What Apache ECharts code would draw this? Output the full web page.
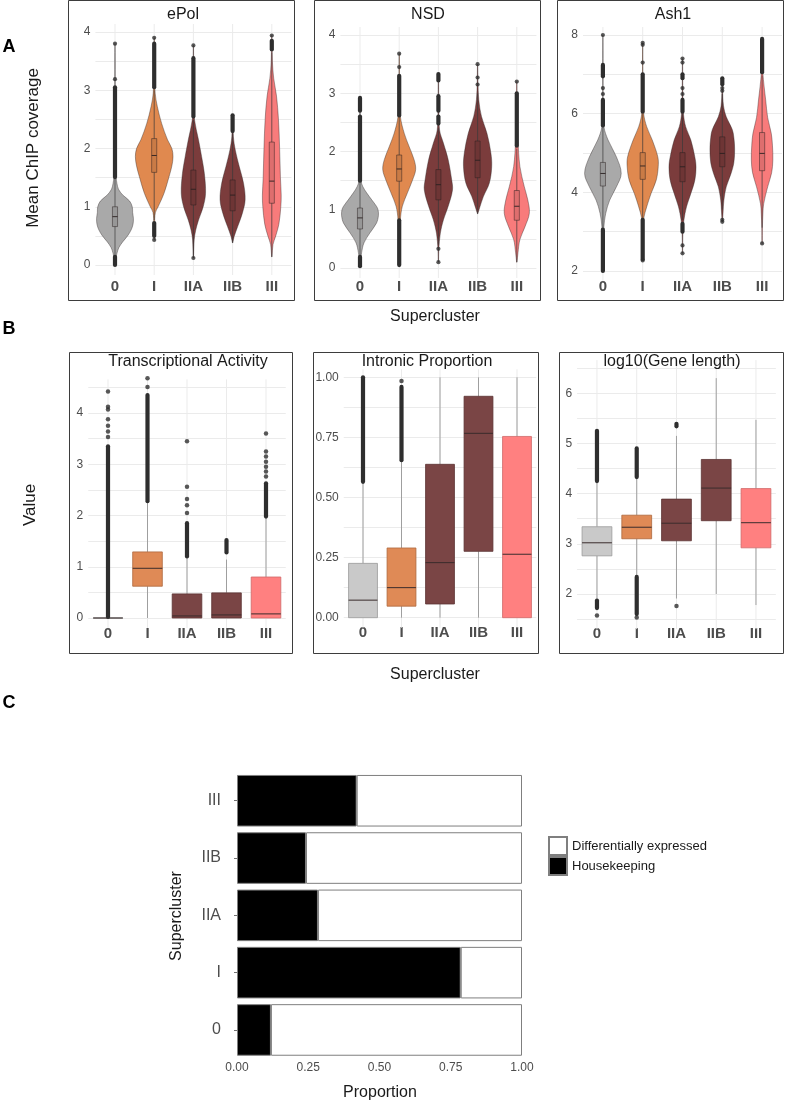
<!DOCTYPE html>
<html><head><meta charset="utf-8">
<script src="https://cdn.jsdelivr.net/npm/echarts@6/dist/echarts.min.js"></script>
<style>html,body{margin:0;padding:0;background:#fff}#c{width:786px;height:1102px}</style>
</head><body><div id="c"></div>
<script>
// ---------------- DATA ----------------
const categories = ['0','I','IIA','IIB','III'];

// Panel A : ePol  (violin profiles: [value, half-width in category units])
const ePolTicks = [0,1,2,3,4];
const ePolViolin = [
  [[0.02,0.005],[0.1,0.02],[0.2,0.05],[0.3,0.1],[0.4,0.2],[0.5,0.32],[0.6,0.41],[0.7,0.46],[0.8,0.47],[0.9,0.45],[1.0,0.44],[1.1,0.37],[1.2,0.2],[1.3,0.09],[1.4,0.05],[1.5,0.03],[1.8,0.015],[2.5,0.01],[3.2,0.007],[3.8,0.004]],
  [[0.43,0.004],[0.7,0.01],[0.9,0.03],[1.0,0.1],[1.23,0.25],[1.52,0.38],[1.7,0.45],[1.86,0.48],[2.0,0.45],[2.15,0.34],[2.43,0.19],[2.72,0.08],[2.95,0.025],[3.3,0.008],[3.9,0.004]],
  [[0.12,0.004],[0.43,0.02],[0.6,0.06],[0.77,0.13],[1.0,0.25],[1.23,0.31],[1.57,0.28],[1.86,0.21],[2.15,0.13],[2.49,0.03],[2.8,0.01],[3.77,0.004]],
  [[0.38,0.004],[0.49,0.04],[0.66,0.13],[0.89,0.25],[1.12,0.32],[1.4,0.28],[1.69,0.17],[1.97,0.07],[2.2,0.02],[2.57,0.004]],
  [[0.14,0.004],[0.35,0.03],[0.5,0.1],[0.7,0.18],[1.0,0.23],[1.2,0.24],[1.5,0.22],[2.0,0.2],[2.5,0.17],[2.9,0.12],[3.2,0.05],[3.5,0.015],[3.94,0.004]]
];
const ePolBox = [[0.17,0.66,0.83,1.00,1.49],[0.77,1.59,1.88,2.17,3.0],[0.15,1.03,1.30,1.63,2.49],[0.38,0.93,1.20,1.46,2.26],[0.14,1.06,1.44,2.11,3.65]];
const ePolRuns = [[0,1.51,3.05],[0,0.0,0.14],[1,3.05,3.8],[1,0.5,0.72],[2,2.55,3.55],[3,2.3,2.57],[4,3.7,3.85]];
const ePolPoints = [[0,3.19],[0,3.8],[1,3.9],[1,0.43],[2,3.77],[2,0.12],[4,3.94]];

// Panel A : NSD
const nsdTicks = [0,1,2,3,4];
const nsdViolin = [
  [[0.03,0.005],[0.15,0.02],[0.26,0.04],[0.43,0.1],[0.6,0.25],[0.77,0.42],[0.9,0.47],[1.0,0.46],[1.06,0.42],[1.17,0.3],[1.29,0.17],[1.4,0.07],[1.49,0.03],[1.8,0.012],[2.4,0.008],[2.92,0.004]],
  [[0.05,0.004],[0.5,0.01],[0.83,0.03],[1.06,0.08],[1.29,0.21],[1.51,0.34],[1.69,0.42],[1.86,0.38],[2.09,0.25],[2.31,0.13],[2.6,0.03],[3.0,0.01],[3.68,0.004]],
  [[0.1,0.004],[0.31,0.01],[0.6,0.05],[0.83,0.13],[1.06,0.25],[1.34,0.36],[1.51,0.34],[1.86,0.25],[2.14,0.13],[2.37,0.03],[2.8,0.01],[3.33,0.004]],
  [[0.93,0.004],[1.03,0.05],[1.23,0.15],[1.46,0.3],[1.74,0.36],[1.97,0.34],[2.31,0.24],[2.6,0.1],[2.89,0.03],[3.2,0.01],[3.5,0.004]],
  [[0.1,0.004],[0.26,0.03],[0.49,0.08],[0.71,0.21],[0.94,0.32],[1.17,0.28],[1.4,0.19],[1.74,0.08],[2.2,0.03],[2.7,0.01],[3.2,0.004]]
];
const nsdBox = [[0.2,0.67,0.86,1.03,1.49],[0.83,1.49,1.70,1.94,2.6],[0.4,1.17,1.43,1.69,2.4],[0.93,1.55,1.85,2.18,3.0],[0.1,0.82,1.06,1.33,2.05]];
const nsdRuns = [[0,1.5,2.6],[0,2.7,2.92],[0,0.03,0.19],[1,2.62,3.3],[1,0.05,0.82],[2,2.48,2.6],[2,2.7,2.95],[2,3.22,3.33],[4,2.1,3.0]];
const nsdPoints = [[1,3.45],[1,3.68],[2,0.33],[2,0.1],[3,3.15],[3,3.27],[3,3.5],[4,3.2]];

// Panel A : Ash1
const ash1Ticks = [2,4,6,8];
const ash1Violin = [
  [[2.0,0.004],[2.6,0.006],[3.12,0.025],[3.46,0.07],[3.8,0.17],[4.14,0.34],[4.48,0.46],[4.9,0.34],[5.33,0.13],[5.67,0.025],[6.2,0.008],[7.2,0.005],[8.0,0.003]],
  [[2.27,0.004],[3.0,0.01],[3.33,0.025],[3.63,0.1],[3.97,0.21],[4.31,0.34],[4.65,0.39],[4.9,0.38],[5.33,0.24],[5.67,0.1],[6.0,0.025],[6.6,0.008],[7.8,0.003]],
  [[2.45,0.004],[3.0,0.01],[3.29,0.035],[3.63,0.1],[3.97,0.21],[4.31,0.31],[4.65,0.34],[4.9,0.31],[5.33,0.21],[5.67,0.08],[6.0,0.025],[6.6,0.008],[7.4,0.003]],
  [[3.25,0.004],[3.5,0.02],[3.8,0.04],[4.14,0.1],[4.48,0.22],[4.75,0.29],[5.1,0.31],[5.4,0.29],[5.6,0.25],[5.92,0.1],[6.2,0.03],[6.6,0.008],[6.9,0.003]],
  [[2.7,0.004],[3.1,0.008],[3.45,0.02],[3.71,0.04],[4.14,0.14],[4.5,0.24],[4.82,0.27],[5.2,0.26],[5.5,0.23],[5.9,0.14],[6.35,0.09],[6.7,0.05],[7.03,0.02],[7.5,0.008],[7.9,0.003]]
];
const ash1Box = [[3.1,4.16,4.48,4.76,5.66],[3.33,4.33,4.67,5.01,6.0],[3.3,4.27,4.65,5.01,6.0],[3.56,4.65,4.99,5.41,6.5],[3.1,4.55,4.99,5.52,6.97]];
const ash1Runs = [[0,5.7,6.35],[0,6.95,7.24],[0,2.0,3.05],[1,6.05,7.0],[1,2.3,3.3],[2,6.05,6.35],[2,6.9,7.0],[2,3.0,3.2],[3,6.75,6.9],[4,7.05,7.9]];
const ash1Points = [[0,6.5],[0,6.65],[0,8.0],[1,7.3],[1,7.75],[1,7.8],[1,2.27],[2,6.5],[2,6.65],[2,7.3],[2,7.4],[2,2.65],[2,2.45],[3,6.65],[3,6.58],[3,3.3],[3,3.25],[4,2.7]];

// Panel B : boxes [lower whisker, Q1, median, Q3, upper whisker]
const transTicks = [0,1,2,3,4];
const transBox = [[0,0,0,0,0],[0,0.62,0.97,1.29,2.27],[0,0,0.04,0.47,1.18],[0,0,0.06,0.49,1.14],[0,0,0.08,0.80,1.95]];
const transRuns = [[0,0.02,3.35],[1,2.28,4.35],[2,1.2,1.85],[3,1.28,1.52],[4,1.98,2.63]];
const transPoints = [[0,3.53],[0,3.64],[0,3.75],[0,3.88],[0,4.07],[0,4.12],[0,4.42],[1,4.51],[1,4.68],[2,2.05],[2,2.2],[2,2.32],[2,2.56],[2,3.45],[4,2.76],[4,2.86],[4,2.95],[4,3.05],[4,3.15],[4,3.25],[4,3.6]];

const intronicTicks = [0,0.25,0.5,0.75,1];
const intronicBox = [[0,0,0.073,0.226,0.562],[0,0.048,0.125,0.29,0.65],[0,0.057,0.229,0.638,1.0],[0,0.276,0.767,0.921,1.0],[0,0,0.264,0.754,1.0]];
const intronicRuns = [[0,0.565,1.0],[1,0.655,0.96]];
const intronicPoints = [[1,0.985]];

const geneTicks = [2,3,4,5,6];
const geneBox = [[1.89,2.76,3.02,3.34,4.22],[2.36,3.10,3.33,3.57,4.31],[1.91,3.06,3.41,3.89,5.15],[2.0,3.46,4.11,4.68,6.3],[1.78,2.92,3.42,4.10,5.47]];
const geneRuns = [[0,4.25,5.25],[0,1.72,1.87],[1,4.33,4.9],[1,1.6,2.34],[2,5.34,5.39]];
const genePoints = [[0,1.57],[1,1.53],[2,1.76]];

// Panel C
const propTicks = [0,0.25,0.5,0.75,1];
const housekeeping = [0.119,0.785,0.284,0.242,0.42];
const diffExpressed = [0.881,0.215,0.716,0.758,0.58];
const legendNames = ['Differentially expressed','Housekeeping'];

// ---------------- STYLE ----------------
const FONT = 'Liberation Sans, Arial, Helvetica, sans-serif';
const violinFill = ['#a9a9a9','#e0894f','#7b3c3c','#7b3c3c','#f87b7b'];
const boxFill = ['#c9c9c9','#df8a56','#7a4545','#7a4545','#ff8080'];
const boxStroke = ['#9a9a9a','#ad683d','#5c3333','#5c3333','#cf6868'];

const grids = [
  {left:95.4, top:32, width:196, height:233},
  {left:340.4, top:35, width:196, height:233},
  {left:583, top:35, width:199, height:236},
  {left:88.25, top:387.4, width:197.5, height:230.6},
  {left:343.75, top:377.3, width:192.5, height:240.4},
  {left:577.1, top:368.1, width:198.75, height:251},
  {left:237, top:772.1, width:285, height:286.5}
].map(g => Object.assign({outerBoundsMode:'none', containLabel:false}, g));

function tickFmt(ticks, dec){
  return v => ticks.some(t => Math.abs(t - v) < 1e-9) ? (dec ? v.toFixed(dec) : String(v)) : '';
}
const yDefs = [
  {min:0, max:4, interval:0.5, ticks:ePolTicks},
  {min:0, max:4, interval:0.5, ticks:nsdTicks},
  {min:2, max:8, interval:1, ticks:ash1Ticks},
  {min:0, max:4.5, interval:0.5, ticks:transTicks},
  {min:0, max:1, interval:0.125, ticks:intronicTicks, dec:2},
  {min:1.5, max:6.5, interval:0.5, ticks:geneTicks}
];
const xMargins = [14.5, 11.5, 8.5, 8, 8, 7];

const xAxis = [], yAxis = [];
for (let i = 0; i < 6; i++) {
  xAxis.push({gridIndex:i, type:'category', data:categories, boundaryGap:true,
    axisLine:{show:false}, axisTick:{show:false}, splitLine:{show:false},
    axisLabel:{fontFamily:FONT, fontWeight:'bold', fontSize:15, color:'#4d4d4d', margin:xMargins[i], interval:0}});
  const d = yDefs[i];
  yAxis.push({gridIndex:i, type:'value', min:d.min, max:d.max, interval:d.interval,
    axisLine:{show:false}, axisTick:{show:false},
    splitLine:{show:true, lineStyle:{color:'#ebebeb', width:1}},
    axisLabel:{fontFamily:FONT, fontSize:12, color:'#4d4d4d', margin:5, formatter:tickFmt(d.ticks, d.dec), showMinLabel:true, showMaxLabel:true}});
}
// Panel C axes
xAxis.push({gridIndex:6, type:'value', min:0, max:1, interval:0.25,
  axisLine:{show:false}, axisTick:{show:false}, splitLine:{show:false},
  axisLabel:{fontFamily:FONT, fontSize:12, color:'#4d4d4d', margin:3, formatter:tickFmt(propTicks, 2), showMinLabel:true, showMaxLabel:true}});
yAxis.push({gridIndex:6, type:'category', data:categories, offset:14,
  axisLine:{show:false}, axisTick:{show:true, alignWithLabel:true, length:3, lineStyle:{color:'#4d4d4d', width:0.8}},
  splitLine:{show:false},
  axisLabel:{fontFamily:FONT, fontSize:16, color:'#4d4d4d', margin:2}});

// ---------------- RENDERERS ----------------
function gridLineRender(params, api){
  const cs = params.coordSys;
  const x = api.coord([api.value(0), yDefs[0].min])[0];
  return {type:'line', silent:true, shape:{x1:x, y1:cs.y - 8, x2:x, y2:cs.y + cs.height + 10},
    style:{stroke:'#ebebeb', lineWidth:1}};
}
function violinRender(profiles){
  return function(params, api){
    const i = params.dataIndex;
    const band = api.size([1, 0])[0];
    const right = [], left = [];
    profiles[i].forEach(p => {
      const c = api.coord([i, p[0]]);
      right.push([c[0] + p[1] * band, c[1]]);
      left.push([c[0] - p[1] * band, c[1]]);
    });
    const pts = right.concat(left.reverse());
    return {type:'polygon', shape:{points:pts, smooth:0.35},
      style:{fill:violinFill[i], stroke:'rgba(45,35,35,0.65)', lineWidth:0.6}};
  };
}
function boxRender(boxes, half, opts){
  return function(params, api){
    const i = params.dataIndex;
    const b = boxes[i];
    const band = api.size([1, 0])[0];
    const pLo = api.coord([i, b[0]]), pQ1 = api.coord([i, b[1]]), pMed = api.coord([i, b[2]]),
          pQ3 = api.coord([i, b[3]]), pHi = api.coord([i, b[4]]);
    const cx = pMed[0], w = half * band;
    return {type:'group', children:[
      {type:'line', shape:{x1:cx, y1:pQ3[1], x2:cx, y2:pHi[1]}, style:{stroke:opts.whisker, lineWidth:opts.whiskerWidth}},
      {type:'line', shape:{x1:cx, y1:pQ1[1], x2:cx, y2:pLo[1]}, style:{stroke:opts.whisker, lineWidth:opts.whiskerWidth}},
      {type:'rect', shape:{x:cx - w, y:pQ3[1], width:2 * w, height:pQ1[1] - pQ3[1]},
        style:{fill:opts.fill(i), stroke:opts.stroke(i), lineWidth:opts.strokeWidth}},
      {type:'line', shape:{x1:cx - w, y1:pMed[1], x2:cx + w, y2:pMed[1]}, style:{stroke:opts.median, lineWidth:opts.medianWidth}}
    ]};
  };
}
function runRender(params, api){
  const a = api.coord([api.value(0), api.value(1)]);
  const b = api.coord([api.value(0), api.value(2)]);
  return {type:'line', shape:{x1:a[0], y1:a[1], x2:b[0], y2:b[1]},
    style:{stroke:'#2e2e2e', lineWidth:4.2, lineCap:'round'}};
}

const series = [];
function addCommon(gi, runs, points, size){
  series.push({type:'custom', xAxisIndex:gi, yAxisIndex:gi, renderItem:runRender, data:runs,
    encode:{x:0, y:[1,2]}, z:5, clip:false, silent:true});
  series.push({type:'scatter', xAxisIndex:gi, yAxisIndex:gi, data:points, symbolSize:size,
    itemStyle:{color:'#2e2e2e'}, z:5, clip:false, silent:true});
}
function addGridLines(gi){
  series.push({type:'custom', xAxisIndex:gi, yAxisIndex:gi, renderItem:gridLineRender,
    data:categories.map((c, i) => [i]), encode:{x:0}, z:1, clip:false, silent:true});
}
function addViolinPanel(gi, violin, box, runs, points){
  addGridLines(gi);
  const dat = categories.map((c, i) => [i, box[i][2]]);
  series.push({type:'custom', xAxisIndex:gi, yAxisIndex:gi, renderItem:violinRender(violin), data:dat,
    encode:{x:0, y:1}, z:2, clip:false, silent:true});
  series.push({type:'custom', xAxisIndex:gi, yAxisIndex:gi,
    renderItem:boxRender(box, 0.065, {whisker:'#3a3a3a', whiskerWidth:0.7, fill:() => 'rgba(0,0,0,0.10)',
      stroke:() => 'rgba(40,30,30,0.8)', strokeWidth:0.6, median:'#2a2020', medianWidth:0.9}),
    data:dat, encode:{x:0, y:1}, z:3, clip:false, silent:true});
  addCommon(gi, runs, points, 4.2);
}
function addBoxPanel(gi, box, runs, points){
  addGridLines(gi);
  const dat = categories.map((c, i) => [i, box[i][2]]);
  series.push({type:'custom', xAxisIndex:gi, yAxisIndex:gi,
    renderItem:boxRender(box, 0.375, {whisker:'#8c8c8c', whiskerWidth:0.8, fill:i => boxFill[i],
      stroke:i => boxStroke[i], strokeWidth:0.8, median:'#3a2c2c', medianWidth:1}),
    data:dat, encode:{x:0, y:1}, z:3, clip:false, silent:true});
  addCommon(gi, runs, points, 4.5);
}
addViolinPanel(0, ePolViolin, ePolBox, ePolRuns, ePolPoints);
addViolinPanel(1, nsdViolin, nsdBox, nsdRuns, nsdPoints);
addViolinPanel(2, ash1Violin, ash1Box, ash1Runs, ash1Points);
addBoxPanel(3, transBox, transRuns, transPoints);
addBoxPanel(4, intronicBox, intronicRuns, intronicPoints);
addBoxPanel(5, geneBox, geneRuns, genePoints);

series.push({name:legendNames[1], type:'bar', xAxisIndex:6, yAxisIndex:6, stack:'p', data:housekeeping,
  barCategoryGap:'10%', itemStyle:{color:'#000000', borderColor:'#7f7f7f', borderWidth:1}, silent:true});
series.push({name:legendNames[0], type:'bar', xAxisIndex:6, yAxisIndex:6, stack:'p', data:diffExpressed,
  barCategoryGap:'10%', itemStyle:{color:'#ffffff', borderColor:'#7f7f7f', borderWidth:1}, silent:true});

// ---------------- TEXT / FRAMES ----------------
function txt(text, x, y, size, opts){
  opts = opts || {};
  return {type:'text', x:x, y:y, rotation:opts.rot || 0, silent:true, z:10,
    style:{text:text, font:(opts.bold ? 'bold ' : '') + size + 'px ' + FONT, fill:opts.color || '#1a1a1a',
      align:opts.align || 'center', verticalAlign:'middle', textAlign:opts.align || 'center', textVerticalAlign:'middle'}};
}
function frame(x, y, w, h){
  return {type:'rect', silent:true, z:10, shape:{x:x + 0.5, y:y + 0.5, width:w, height:h},
    style:{fill:'none', stroke:'#3d3d3d', lineWidth:1}};
}
const graphic = [
  frame(68, 0, 226, 300), frame(314, 0, 226, 300), frame(557, 0, 226, 300),
  frame(69, 352, 223, 301), frame(313, 352, 225, 301), frame(559, 352, 224, 301),
  txt('ePol', 183, 15, 16), txt('NSD', 428, 15, 16), txt('Ash1', 673, 15, 16),
  txt('Transcriptional Activity', 188, 362, 16), txt('Intronic Proportion', 427, 362, 16), txt('log10(Gene length)', 672, 362, 16),
  txt('A', 9, 47, 18, {bold:true, color:'#000'}), txt('B', 9, 329, 18, {bold:true, color:'#000'}), txt('C', 9, 703, 18, {bold:true, color:'#000'}),
  txt('Mean ChIP coverage', 33, 148, 17, {rot:Math.PI / 2}),
  txt('Value', 30, 505, 17, {rot:Math.PI / 2}),
  txt('Supercluster', 435, 317, 16), txt('Supercluster', 435, 675, 16),
  txt('Supercluster', 177, 916, 16, {rot:Math.PI / 2}),
  txt('Proportion', 380, 1093, 16)
];

const chart = echarts.init(document.getElementById('c'), null, {renderer:'canvas', width:786, height:1102});
chart.setOption({
  animation:false,
  backgroundColor:'#ffffff',
  grid:grids, xAxis:xAxis, yAxis:yAxis, series:series, graphic:graphic,
  legend:{data:legendNames, orient:'vertical', left:548, top:836, itemWidth:18, itemHeight:18, itemGap:0,
    icon:'rect', padding:0, selectedMode:false, textStyle:{fontFamily:FONT, fontSize:13, color:'#1a1a1a'}}
});
</script></body></html>
